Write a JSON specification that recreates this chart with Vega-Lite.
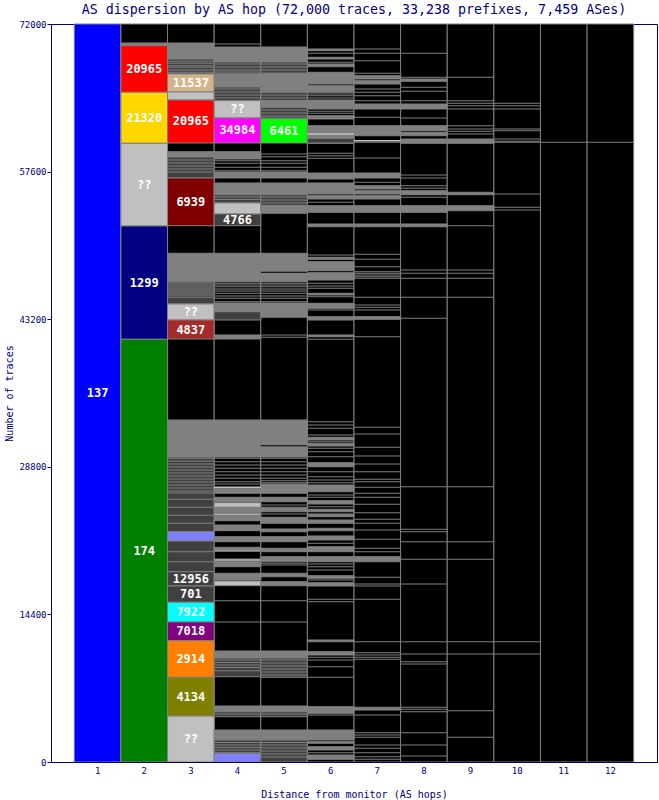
{
 "$schema": "https://vega.github.io/schema/vega-lite/v6.json",
 "width": 606,
 "height": 738,
 "autosize": "none",
 "padding": {"left": 51, "top": 24, "right": 2, "bottom": 38},
 "background": "white",
 "title": {"text": "AS dispersion by AS hop (72,000 traces, 33,238 prefixes, 7,459 ASes)", "font": "DejaVu Sans Mono", "fontSize": 13.3, "fontWeight": "normal", "color": "#000080", "anchor": "middle", "offset": 4},
 "config": {"view": {"stroke": "#000080", "strokeWidth": 1}, "font": "DejaVu Sans Mono"},
 "datasets": {
  "r": [
   {"c":1,"y":0,"yt":72000,"g":"137"},
   {"c":2,"y":0,"yt":72000,"g":"bg"},{"c":3,"y":0,"yt":72000,"g":"bg"},{"c":4,"y":0,"yt":72000,"g":"bg"},{"c":5,"y":0,"yt":72000,"g":"bg"},{"c":6,"y":0,"yt":72000,"g":"bg"},{"c":7,"y":0,"yt":72000,"g":"bg"},{"c":8,"y":0,"yt":72000,"g":"bg"},{"c":9,"y":0,"yt":72000,"g":"bg"},{"c":10,"y":0,"yt":72000,"g":"bg"},{"c":11,"y":0,"yt":72000,"g":"bg"},{"c":12,"y":0,"yt":72000,"g":"bg"},
   {"c":2,"y":69883,"yt":70146,"g":"sep"},
   {"c":2,"y":65337,"yt":69883,"g":"20965"},
   {"c":2,"y":60360,"yt":65337,"g":"21320"},
   {"c":2,"y":52293,"yt":60360,"g":"??"},
   {"c":2,"y":41240,"yt":52293,"g":"1299"},
   {"c":2,"y":0,"yt":41240,"g":"174"},
   {"c":3,"y":68585,"yt":70146,"g":"sep"},
   {"c":3,"y":67122,"yt":68585,"g":"dk"},
   {"c":3,"y":65366,"yt":67122,"g":"11537"},
   {"c":3,"y":64585,"yt":65366,"g":"lt"},
   {"c":3,"y":60390,"yt":64585,"g":"20965"},
   {"c":3,"y":59024,"yt":59541,"g":"sep"},
   {"c":3,"y":56976,"yt":59024,"g":"dk"},
   {"c":3,"y":52322,"yt":56976,"g":"6939"},
   {"c":3,"y":46858,"yt":49629,"g":"sep"},
   {"c":3,"y":44683,"yt":46858,"g":"dk"},
   {"c":3,"y":43122,"yt":44683,"g":"??"},
   {"c":3,"y":41268,"yt":43122,"g":"4837"},
   {"c":3,"y":29756,"yt":33366,"g":"sep"},
   {"c":3,"y":22468,"yt":29756,"g":"dk"},
   {"c":3,"y":21561,"yt":22468,"g":"pr"},
   {"c":3,"y":18566,"yt":21561,"g":"dk"},
   {"c":3,"y":17171,"yt":18566,"g":"12956"},
   {"c":3,"y":15580,"yt":17171,"g":"701"},
   {"c":3,"y":13659,"yt":15580,"g":"7922"},
   {"c":3,"y":11834,"yt":13659,"g":"7018"},
   {"c":3,"y":8263,"yt":11834,"g":"2914"},
   {"c":3,"y":4480,"yt":8263,"g":"4134"},
   {"c":3,"y":0,"yt":4480,"g":"??"},
   {"c":4,"y":68293,"yt":69756,"g":"sep"},
   {"c":4,"y":67122,"yt":68293,"g":"dk"},
   {"c":4,"y":65854,"yt":67122,"g":"sep"},
   {"c":4,"y":64517,"yt":65854,"g":"dk"},
   {"c":4,"y":62829,"yt":64517,"g":"??"},
   {"c":4,"y":60390,"yt":62829,"g":"34984"},
   {"c":4,"y":58829,"yt":59541,"g":"sep"},
   {"c":4,"y":56976,"yt":57561,"g":"sep"},
   {"c":4,"y":55346,"yt":56488,"g":"sep"},
   {"c":4,"y":54537,"yt":55346,"g":"dk"},
   {"c":4,"y":53463,"yt":54537,"g":"lt"},
   {"c":4,"y":52322,"yt":53463,"g":"4766"},
   {"c":4,"y":46858,"yt":49629,"g":"sep"},
   {"c":4,"y":43932,"yt":44780,"g":"sep"},
   {"c":4,"y":43122,"yt":43932,"g":"dk"},
   {"c":4,"y":41268,"yt":41659,"g":"sep"},
   {"c":4,"y":29756,"yt":33366,"g":"sep"},
   {"c":4,"y":26215,"yt":26702,"g":"sep"},
   {"c":4,"y":25395,"yt":25824,"g":"sep"},
   {"c":4,"y":24849,"yt":25298,"g":"lt"},
   {"c":4,"y":24322,"yt":24849,"g":"sep"},
   {"c":4,"y":24068,"yt":24263,"g":"lt"},
   {"c":4,"y":23541,"yt":24000,"g":"sep"},
   {"c":4,"y":22566,"yt":23122,"g":"sep"},
   {"c":4,"y":21493,"yt":21980,"g":"sep"},
   {"c":4,"y":20683,"yt":20946,"g":"sep"},
   {"c":4,"y":20556,"yt":20683,"g":"lt"},
   {"c":4,"y":19610,"yt":19805,"g":"lt"},
   {"c":4,"y":19054,"yt":19541,"g":"sep"},
   {"c":4,"y":17756,"yt":18410,"g":"sep"},
   {"c":4,"y":17200,"yt":17659,"g":"lt"},
   {"c":4,"y":10146,"yt":10829,"g":"sep"},
   {"c":4,"y":8322,"yt":10146,"g":"dk"},
   {"c":4,"y":4907,"yt":5463,"g":"sep"},
   {"c":4,"y":4420,"yt":4907,"g":"dk"},
   {"c":4,"y":2146,"yt":3122,"g":"sep"},
   {"c":4,"y":907,"yt":2146,"g":"dk"},
   {"c":4,"y":0,"yt":849,"g":"pr"},
   {"c":5,"y":68293,"yt":69756,"g":"sep"},
   {"c":5,"y":67190,"yt":68293,"g":"dk"},
   {"c":5,"y":65337,"yt":67190,"g":"sep"},
   {"c":5,"y":64517,"yt":65337,"g":"dk"},
   {"c":5,"y":63873,"yt":64517,"g":"sep"},
   {"c":5,"y":62829,"yt":63873,"g":"dk"},
   {"c":5,"y":60390,"yt":62761,"g":"6461"},
   {"c":5,"y":56976,"yt":57561,"g":"sep"},
   {"c":5,"y":55346,"yt":56488,"g":"sep"},
   {"c":5,"y":54273,"yt":55346,"g":"dk"},
   {"c":5,"y":53532,"yt":54273,"g":"sep"},
   {"c":5,"y":46858,"yt":49629,"g":"sep"},
   {"c":5,"y":43444,"yt":44780,"g":"sep"},
   {"c":5,"y":29756,"yt":33366,"g":"sep"},
   {"c":5,"y":26215,"yt":27122,"g":"sep"},
   {"c":5,"y":25395,"yt":25824,"g":"sep"},
   {"c":5,"y":24419,"yt":24849,"g":"sep"},
   {"c":5,"y":23288,"yt":23873,"g":"sep"},
   {"c":5,"y":22468,"yt":22731,"g":"sep"},
   {"c":5,"y":21493,"yt":21980,"g":"sep"},
   {"c":5,"y":20517,"yt":20849,"g":"sep"},
   {"c":5,"y":19541,"yt":20029,"g":"sep"},
   {"c":5,"y":18078,"yt":18410,"g":"sep"},
   {"c":5,"y":17200,"yt":17590,"g":"sep"},
   {"c":5,"y":10146,"yt":10829,"g":"sep"},
   {"c":5,"y":8263,"yt":10146,"g":"dk"},
   {"c":5,"y":4907,"yt":5463,"g":"sep"},
   {"c":5,"y":4420,"yt":4907,"g":"dk"},
   {"c":5,"y":2146,"yt":3122,"g":"sep"},
   {"c":5,"y":0,"yt":2146,"g":"dk"},
   {"c":6,"y":69395,"yt":69561,"g":"sep"},{"c":6,"y":68585,"yt":68751,"g":"sep"},{"c":6,"y":67834,"yt":68098,"g":"sep"},{"c":6,"y":66146,"yt":67288,"g":"sep"},{"c":6,"y":65337,"yt":65980,"g":"sep"},{"c":6,"y":63707,"yt":64585,"g":"sep"},{"c":6,"y":62732,"yt":63054,"g":"sep"},{"c":6,"y":60361,"yt":62078,"g":"sep"},{"c":6,"y":60390,"yt":60849,"g":"dk"},{"c":6,"y":56878,"yt":57463,"g":"sep"},{"c":6,"y":55415,"yt":56488,"g":"sep"},{"c":6,"y":54927,"yt":55249,"g":"sep"},{"c":6,"y":53629,"yt":54273,"g":"sep"},{"c":6,"y":52224,"yt":52488,"g":"sep"},{"c":6,"y":49044,"yt":49239,"g":"sep"},{"c":6,"y":47932,"yt":48810,"g":"sep"},{"c":6,"y":47024,"yt":47737,"g":"sep"},{"c":6,"y":45561,"yt":45727,"g":"sep"},{"c":6,"y":44263,"yt":44751,"g":"sep"},{"c":6,"y":43122,"yt":43444,"g":"sep"},{"c":6,"y":41493,"yt":41659,"g":"sep"},{"c":6,"y":31415,"yt":31678,"g":"sep"},{"c":6,"y":30829,"yt":31093,"g":"sep"},{"c":6,"y":28810,"yt":29200,"g":"sep"},{"c":6,"y":26371,"yt":27024,"g":"sep"},{"c":6,"y":25171,"yt":25493,"g":"sep"},{"c":6,"y":24419,"yt":24654,"g":"sep"},{"c":6,"y":23932,"yt":24195,"g":"sep"},{"c":6,"y":23288,"yt":23610,"g":"sep"},{"c":6,"y":22566,"yt":22800,"g":"sep"},{"c":6,"y":21659,"yt":22049,"g":"sep"},{"c":6,"y":20517,"yt":21005,"g":"sep"},{"c":6,"y":19541,"yt":20029,"g":"sep"},{"c":6,"y":17922,"yt":18176,"g":"sep"},{"c":6,"y":17171,"yt":17493,"g":"sep"},{"c":6,"y":11737,"yt":11902,"g":"sep"},{"c":6,"y":10439,"yt":10761,"g":"sep"},{"c":6,"y":4751,"yt":5395,"g":"sep"},{"c":6,"y":2146,"yt":3122,"g":"sep"},{"c":6,"y":1824,"yt":1980,"g":"sep"},{"c":6,"y":1171,"yt":1493,"g":"sep"},{"c":6,"y":263,"yt":683,"g":"sep"},
   {"c":7,"y":66634,"yt":66956,"g":"sep"},{"c":7,"y":66146,"yt":66468,"g":"sep"},{"c":7,"y":63707,"yt":64195,"g":"sep"},{"c":7,"y":61102,"yt":62078,"g":"sep"},{"c":7,"y":56976,"yt":57463,"g":"sep"},{"c":7,"y":55902,"yt":56224,"g":"sep"},{"c":7,"y":55415,"yt":55737,"g":"sep"},{"c":7,"y":54927,"yt":55249,"g":"sep"},{"c":7,"y":53629,"yt":54273,"g":"sep"},{"c":7,"y":52224,"yt":52488,"g":"sep"},{"c":7,"y":43190,"yt":43444,"g":"sep"},{"c":7,"y":19541,"yt":20029,"g":"sep"},{"c":7,"y":5073,"yt":5337,"g":"sep"},
   {"c":8,"y":66410,"yt":66634,"g":"sep"},{"c":8,"y":63707,"yt":64195,"g":"sep"},{"c":8,"y":61590,"yt":62078,"g":"sep"},{"c":8,"y":61102,"yt":61434,"g":"sep"},{"c":8,"y":60361,"yt":60780,"g":"sep"},{"c":8,"y":55346,"yt":55737,"g":"sep"},{"c":8,"y":53629,"yt":54273,"g":"sep"},{"c":8,"y":52224,"yt":52488,"g":"sep"},
   {"c":9,"y":60361,"yt":60780,"g":"sep"},{"c":9,"y":55346,"yt":55580,"g":"sep"},{"c":9,"y":53785,"yt":54273,"g":"sep"}
  ],
  "t": [
   {"c":3,"y":68361},{"c":3,"y":68166},{"c":3,"y":67932},{"c":3,"y":67776},{"c":3,"y":67512},{"c":3,"y":67288},{"c":3,"y":58732},{"c":3,"y":58439},{"c":3,"y":58146},{"c":3,"y":57854},{"c":3,"y":57561},{"c":3,"y":46732},{"c":3,"y":46537},{"c":3,"y":46341},{"c":3,"y":46146},{"c":3,"y":45951},{"c":3,"y":45756},{"c":3,"y":45561},{"c":3,"y":45337},{"c":3,"y":29629},{"c":3,"y":29366},{"c":3,"y":29073},{"c":3,"y":28780},{"c":3,"y":28488},{"c":3,"y":28195},{"c":3,"y":27902},{"c":3,"y":27610},{"c":3,"y":27317},{"c":3,"y":27024},{"c":3,"y":26732},{"c":3,"y":26439},{"c":3,"y":26244},{"c":3,"y":25629},{"c":3,"y":24849},{"c":3,"y":24068},{"c":3,"y":23288},{"c":3,"y":20517},{"c":3,"y":19541},
   {"c":4,"y":70049},{"c":4,"y":68098},{"c":4,"y":67805},{"c":4,"y":67512},{"c":4,"y":67317},{"c":4,"y":65659},{"c":4,"y":65366},{"c":4,"y":65073},{"c":4,"y":64780},{"c":4,"y":58663},{"c":4,"y":58410},{"c":4,"y":58020},{"c":4,"y":57688},{"c":4,"y":55122},{"c":4,"y":54878},{"c":4,"y":46702},{"c":4,"y":46537},{"c":4,"y":46371},{"c":4,"y":46146},{"c":4,"y":45951},{"c":4,"y":45727},{"c":4,"y":45463},{"c":4,"y":45239},{"c":4,"y":44907},{"c":4,"y":29629},{"c":4,"y":29298},{"c":4,"y":28976},{"c":4,"y":28654},{"c":4,"y":28322},{"c":4,"y":28000},{"c":4,"y":27678},{"c":4,"y":27346},{"c":4,"y":27122},{"c":4,"y":15737},{"c":4,"y":13659},{"c":4,"y":9951},{"c":4,"y":9707},{"c":4,"y":9463},{"c":4,"y":9220},{"c":4,"y":8907},{"c":4,"y":4683},{"c":4,"y":1902},{"c":4,"y":1659},{"c":4,"y":1415},{"c":4,"y":1171},
   {"c":5,"y":68098},{"c":5,"y":67805},{"c":5,"y":67512},{"c":5,"y":65073},{"c":5,"y":64780},{"c":5,"y":63610},{"c":5,"y":63317},{"c":5,"y":63024},{"c":5,"y":59317},{"c":5,"y":59054},{"c":5,"y":58663},{"c":5,"y":58410},{"c":5,"y":58020},{"c":5,"y":57688},{"c":5,"y":55122},{"c":5,"y":54829},{"c":5,"y":54537},{"c":5,"y":46702},{"c":5,"y":46537},{"c":5,"y":46371},{"c":5,"y":46146},{"c":5,"y":45951},{"c":5,"y":45727},{"c":5,"y":45463},{"c":5,"y":45239},{"c":5,"y":44907},{"c":5,"y":43385},{"c":5,"y":41659},{"c":5,"y":41434},{"c":5,"y":29629},{"c":5,"y":29298},{"c":5,"y":28976},{"c":5,"y":28654},{"c":5,"y":28322},{"c":5,"y":28000},{"c":5,"y":27678},{"c":5,"y":27444},{"c":5,"y":27249},{"c":5,"y":25073},{"c":5,"y":24195},{"c":5,"y":19385},{"c":5,"y":19220},{"c":5,"y":15737},{"c":5,"y":13659},{"c":5,"y":9951},{"c":5,"y":9659},{"c":5,"y":9366},{"c":5,"y":9073},{"c":5,"y":8780},{"c":5,"y":8488},{"c":5,"y":4683},{"c":5,"y":1902},{"c":5,"y":1659},{"c":5,"y":1366},{"c":5,"y":1073},{"c":5,"y":780},{"c":5,"y":488},
   {"c":6,"y":69141},{"c":6,"y":68263},{"c":6,"y":65171},{"c":6,"y":65005},{"c":6,"y":64780},{"c":6,"y":63483},{"c":6,"y":63288},{"c":6,"y":59385},{"c":6,"y":59151},{"c":6,"y":58898},{"c":6,"y":54605},{"c":6,"y":49463},{"c":6,"y":46702},{"c":6,"y":46439},{"c":6,"y":46215},{"c":6,"y":45395},{"c":6,"y":44098},{"c":6,"y":41239},{"c":6,"y":33200},{"c":6,"y":32878},{"c":6,"y":32556},{"c":6,"y":31902},{"c":6,"y":31249},{"c":6,"y":30605},{"c":6,"y":30273},{"c":6,"y":29785},{"c":6,"y":28322},{"c":6,"y":27834},{"c":6,"y":27512},{"c":6,"y":27249},{"c":6,"y":26049},{"c":6,"y":25824},{"c":6,"y":24907},{"c":6,"y":21337},{"c":6,"y":19317},{"c":6,"y":19054},{"c":6,"y":18732},{"c":6,"y":17756},{"c":6,"y":15873},{"c":6,"y":15639},{"c":6,"y":10215},{"c":6,"y":9951},{"c":6,"y":9298},{"c":6,"y":8263},{"c":6,"y":4585},{"c":6,"y":907},
   {"c":7,"y":69561},{"c":7,"y":69141},{"c":7,"y":68420},{"c":7,"y":67190},{"c":7,"y":65659},{"c":7,"y":65337},{"c":7,"y":65005},{"c":7,"y":64517},{"c":7,"y":62898},{"c":7,"y":60458},{"c":7,"y":58927},{"c":7,"y":56556},{"c":7,"y":49532},{"c":7,"y":49044},{"c":7,"y":48322},{"c":7,"y":47834},{"c":7,"y":47678},{"c":7,"y":47512},{"c":7,"y":47346},{"c":7,"y":47190},{"c":7,"y":45337},{"c":7,"y":44585},{"c":7,"y":44361},{"c":7,"y":44098},{"c":7,"y":41493},{"c":7,"y":32654},{"c":7,"y":32000},{"c":7,"y":30702},{"c":7,"y":29854},{"c":7,"y":29073},{"c":7,"y":28322},{"c":7,"y":27580},{"c":7,"y":27346},{"c":7,"y":26800},{"c":7,"y":26215},{"c":7,"y":25824},{"c":7,"y":25141},{"c":7,"y":24322},{"c":7,"y":23678},{"c":7,"y":23288},{"c":7,"y":22634},{"c":7,"y":21727},{"c":7,"y":20849},{"c":7,"y":20517},{"c":7,"y":18020},{"c":7,"y":17366},{"c":7,"y":17171},{"c":7,"y":15873},{"c":7,"y":11737},{"c":7,"y":10663},{"c":7,"y":10439},{"c":7,"y":10215},{"c":7,"y":10020},{"c":7,"y":4585},{"c":7,"y":2859},{"c":7,"y":2634},{"c":7,"y":2410},{"c":7,"y":1659},{"c":7,"y":1337},{"c":7,"y":907},{"c":7,"y":517},{"c":7,"y":263},
   {"c":8,"y":69141},{"c":8,"y":66800},{"c":8,"y":65824},{"c":8,"y":65434},{"c":8,"y":64517},{"c":8,"y":62829},{"c":8,"y":57268},{"c":8,"y":56976},{"c":8,"y":56224},{"c":8,"y":55971},{"c":8,"y":55093},{"c":8,"y":48000},{"c":8,"y":47678},{"c":8,"y":47190},{"c":8,"y":45337},{"c":8,"y":43288},{"c":8,"y":26859},{"c":8,"y":22702},{"c":8,"y":22468},{"c":8,"y":21493},{"c":8,"y":19776},{"c":8,"y":17366},{"c":8,"y":11737},{"c":8,"y":10537},{"c":8,"y":9785},{"c":8,"y":9561},{"c":8,"y":5337},{"c":8,"y":5141},{"c":8,"y":4907},{"c":8,"y":2859},{"c":8,"y":1659},{"c":8,"y":585},
   {"c":9,"y":66800},{"c":9,"y":64517},{"c":9,"y":64263},{"c":9,"y":64029},{"c":9,"y":63707},{"c":9,"y":62078},{"c":9,"y":61756},{"c":9,"y":61532},{"c":9,"y":61268},{"c":9,"y":52322},{"c":9,"y":48000},{"c":9,"y":47678},{"c":9,"y":47190},{"c":9,"y":45337},{"c":9,"y":26859},{"c":9,"y":21493},{"c":9,"y":19776},{"c":9,"y":11737},{"c":9,"y":10537},{"c":9,"y":5005},{"c":9,"y":2410},
   {"c":10,"y":64263},{"c":10,"y":64029},{"c":10,"y":63707},{"c":10,"y":61756},{"c":10,"y":61590},{"c":10,"y":60780},{"c":10,"y":60556},{"c":10,"y":60458},{"c":10,"y":55415},{"c":10,"y":54117},{"c":10,"y":53854},{"c":10,"y":11737},{"c":10,"y":10537},
   {"c":11,"y":60458},{"c":12,"y":60458}
  ],
  "lt": [{"c":4,"y":26800},{"c":6,"y":61268},{"c":7,"y":60615}],
  "kt": [{"c":5,"y":47776},{"c":5,"y":30859}],
  "lab": [
   {"c":1,"y":36000,"t":"137"},
   {"c":2,"y":67610,"t":"20965"},
   {"c":2,"y":62850,"t":"21320"},
   {"c":2,"y":56330,"t":"??"},
   {"c":2,"y":46770,"t":"1299"},
   {"c":2,"y":20620,"t":"174"},
   {"c":3,"y":66244,"t":"11537"},
   {"c":3,"y":62490,"t":"20965"},
   {"c":3,"y":54650,"t":"6939"},
   {"c":3,"y":43900,"t":"??"},
   {"c":3,"y":42195,"t":"4837"},
   {"c":3,"y":17870,"t":"12956"},
   {"c":3,"y":16375,"t":"701"},
   {"c":3,"y":14620,"t":"7922"},
   {"c":3,"y":12745,"t":"7018"},
   {"c":3,"y":10050,"t":"2914"},
   {"c":3,"y":6370,"t":"4134"},
   {"c":3,"y":2240,"t":"??"},
   {"c":4,"y":63673,"t":"??"},
   {"c":4,"y":61610,"t":"34984"},
   {"c":4,"y":52893,"t":"4766"},
   {"c":5,"y":61575,"t":"6461"}
  ]
 },
 "encoding": {
  "x": {"field": "c", "type": "ordinal",
        "scale": {"type": "band", "domain": [1,2,3,4,5,6,7,8,9,10,11,12], "paddingInner": 0, "paddingOuter": 0.5},
        "axis": {"title": "Distance from monitor (AS hops)", "labelAngle": 0, "ticks": false, "labelPadding": 4, "labelFont": "DejaVu Sans Mono", "labelFontSize": 9, "labelColor": "#000080", "domainColor": "#000080", "titleFont": "DejaVu Sans Mono", "titleColor": "#000080", "titleFontSize": 10, "titleFontWeight": "normal", "titlePadding": 14, "grid": false}},
  "y": {"field": "y", "type": "quantitative",
        "scale": {"domain": [0, 72000], "nice": false, "zero": true},
        "axis": {"values": [0, 14400, 28800, 43200, 57600, 72000], "format": "d", "title": "Number of traces", "labelFont": "DejaVu Sans Mono", "labelFontSize": 9, "labelColor": "#000080", "tickColor": "#000080", "tickSize": 4, "labelPadding": 1, "domainColor": "#000080", "titleFont": "DejaVu Sans Mono", "titleColor": "#000080", "titleFontSize": 10, "titleFontWeight": "normal", "titlePadding": 4, "grid": false}}
 },
 "layer": [
  {"data": {"name": "r"},
   "mark": {"type": "rect", "stroke": "#808080", "strokeWidth": 1},
   "encoding": {
    "y2": {"field": "yt"},
    "fill": {"field": "g", "type": "nominal", "legend": null,
             "scale": {"domain": ["137","174","1299","20965","21320","??","11537","6939","4837","12956","701","7922","7018","2914","4134","34984","6461","4766","bg","sep","dk","lt","pr"],
                       "range": ["#0000ff","#008000","#000080","#ff0000","#ffd700","#c0c0c0","#d2b48c","#800000","#a52a2a","#404040","#404040","#00ffff","#800080","#ff8000","#808000","#ff00ff","#00ff00","#404040","#000000","#808080","#404040","#c0c0c0","#8080ff"]}}
   }},
  {"data": {"name": "t"}, "mark": {"type": "tick", "color": "#808080", "thickness": 1, "size": 46.6, "opacity": 1}, "encoding": {}},
  {"data": {"name": "lt"}, "mark": {"type": "tick", "color": "#c0c0c0", "thickness": 1.5, "size": 46.6, "opacity": 1}, "encoding": {}},
  {"data": {"name": "kt"}, "mark": {"type": "tick", "color": "#000000", "thickness": 1, "size": 46.6, "opacity": 1}, "encoding": {}},
  {"data": {"name": "lab"}, "mark": {"type": "text", "color": "white", "font": "DejaVu Sans Mono", "fontSize": 12, "fontWeight": "bold", "baseline": "middle", "align": "center"}, "encoding": {"text": {"field": "t"}}}
 ]
}
